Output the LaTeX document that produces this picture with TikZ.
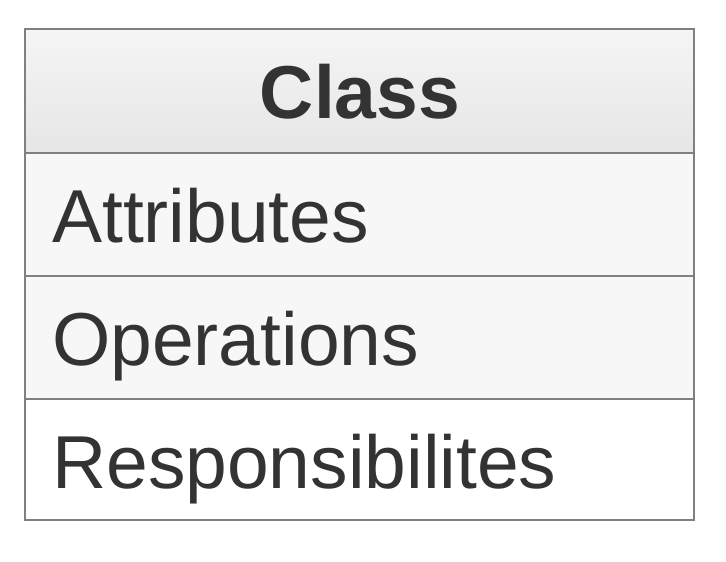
\documentclass[tikz,border=0pt]{standalone}
\usepackage{fontspec}
\setmainfont{Liberation Sans}
\definecolor{boxline}{HTML}{808080}
\definecolor{boxtext}{HTML}{333333}
\definecolor{rowfill}{HTML}{F7F7F7}
\definecolor{headtop}{HTML}{F5F5F5}
\definecolor{headbot}{HTML}{E6E6E6}
\begin{document}
\begin{tikzpicture}[x=1pt, y=-1pt,
  cell/.style={draw=boxline, line width=2pt},
  label/.style={text=boxtext, inner sep=0pt, font=\fontsize{75}{90}\selectfont}]
\useasboundingbox (0,0) rectangle (726,562);

% Draw the compartments
\draw[cell, top color=headtop, bottom color=headbot] (25,29) rectangle (694,153);
\draw[cell, fill=rowfill] (25,153) rectangle (694,276);
\draw[cell, fill=rowfill] (25,276) rectangle (694,399);
\draw[cell, fill=white] (25,399) rectangle (694,520);

% Insert the texts
\node[label, anchor=base] (title) at (360,118) {\textbf{Class}};
\node[label, anchor=base west] (attr) at (52,242) {Attributes};
\node[label, anchor=base west] (oper) at (52,365) {Operations};
\node[label, anchor=base west] (resp) at (52,488) {Responsibilites};
\end{tikzpicture}
\end{document}
